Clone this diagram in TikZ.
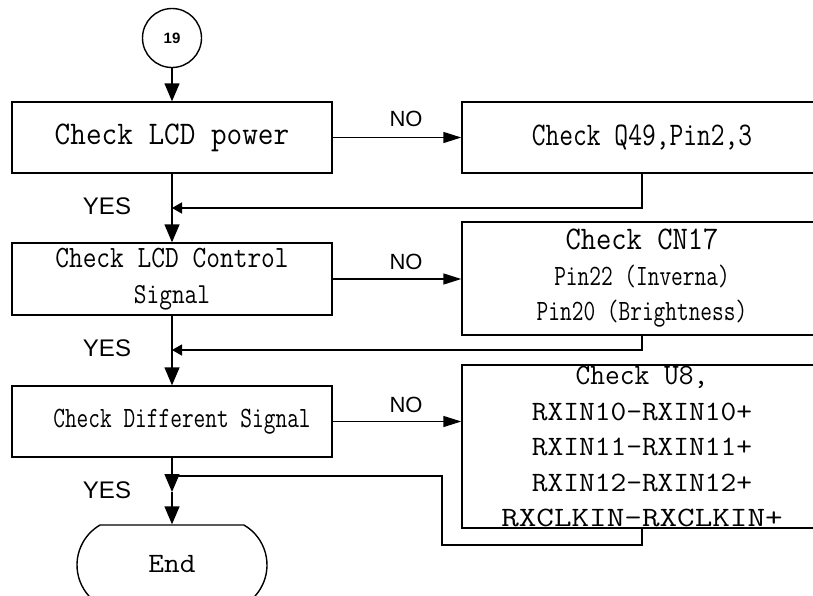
\documentclass[tikz,border=0pt]{standalone}
\usepackage{fontspec}
\usepackage{graphicx}
\newfontfamily\labfont{Liberation Sans}
\newcommand{\tx}[3]{{\fontsize{#1}{#1}\selectfont\scalebox{#2}[1]{#3}}}
\usetikzlibrary{arrows.meta,shapes.misc}
\begin{document}
\begin{tikzpicture}[x=1pt,y=-1pt,
  line width=1.4pt,
  box/.style={draw, rectangle, inner sep=0pt, align=center, font=\ttfamily\fontsize{30}{35.5}\selectfont},
  arr/.style={-{Triangle[length=18pt,width=15pt]}},
  arrno/.style={-{Triangle[length=18pt,width=11pt]}},
  arrfb/.style={-{Triangle[length=10pt,width=11pt]}},
  lab/.style={font=\labfont\fontsize{22}{22}\selectfont, inner sep=0pt},
  ]
\useasboundingbox[fill=white] (0,0) rectangle (813,595);
% nodes
\node[draw, circle, minimum size=59pt, inner sep=0pt,
      font=\labfont\bfseries\fontsize{15}{15}\selectfont] (c19) at (172,38) {19};
\node[box, minimum width=320pt, minimum height=71pt] (b1) at (172,137.5)
  {\tx{33}{0.92}{Check LCD power}};
\node[box, minimum width=360pt, minimum height=71pt] (b2) at (642,137.5)
  {\tx{33}{0.81}{Check Q49,Pin2,3}};
\node[box, minimum width=320pt, minimum height=72pt] (b3) at (172,279)
  {\tx{31}{0.86}{Check LCD Control}\\\tx{29}{0.85}{Signal}};
\node[box, minimum width=360pt, minimum height=113pt] (b4) at (642,278.5)
  {\tx{33}{0.9}{Check CN17}\\\tx{29.5}{0.77}{Pin22 (Inverna)}\\\tx{29.5}{0.77}{Pin20 (Brightness)}};
\node[box, minimum width=320pt, minimum height=71pt] (b5) at (172,421.5)
  {\tx{29.5}{0.77}{Check Different Signal}\hspace*{-20pt}};
\node[box, minimum width=360pt, minimum height=163pt] (b6) at (642,446.5)
  {\tx{29.5}{0.97}{Check U8,}\\\tx{28}{1.09}{RXIN10-RXIN10+}\\\tx{28}{1.09}{RXIN11-RXIN11+}\\\tx{28}{1.09}{RXIN12-RXIN12+}\\\tx{28}{1.22}{RXCLKIN-RXCLKIN+}};
\node[draw, rounded rectangle, rounded rectangle arc length=120, minimum width=190pt,
      minimum height=80pt, inner sep=0pt, font=\ttfamily] (end) at (172,565)
  {\raisebox{3pt}{\tx{28}{1.09}{End}}};
% labels
\node[lab] (no1) at (406,119) {NO};
\node[lab] (no2) at (406,262) {NO};
\node[lab] (no3) at (406,405) {NO};
\node[lab, font=\labfont\fontsize{24}{24}\selectfont] (yes1) at (107,206) {YES};
\node[lab, font=\labfont\fontsize{24}{24}\selectfont] (yes2) at (107,348) {YES};
\node[lab, font=\labfont\fontsize{24}{24}\selectfont] (yes3) at (107,490) {YES};
% junction coordinates
\coordinate (j1) at (172,208);
\coordinate (j2) at (172,350);
\coordinate (j3) at (172,476);
\coordinate (m3) at (172,492);
\coordinate (k3) at (442,545);
% connectors
\draw[arr] (c19) -- (b1);
\draw[arrno] (b1.east) -- (b2.west |- b1.east);
\draw[arr] (b1) -- (b3);
\draw[arrfb] (b2.south) |- (j1);
\draw[arrno] (b3.east) -- (b4.west |- b3.east);
\draw[arr] (b3) -- (b5);
\draw[arrfb] (b4.south) |- (j2);
\draw[arrno] (b5.east) -- (b6.west |- b5.east);
\draw[arr] (b5.south) -- (m3);
\draw[arr] (m3) -- (end.north);
\draw (b6.south) |- (k3) |- (j3);
\end{tikzpicture}
\end{document}
